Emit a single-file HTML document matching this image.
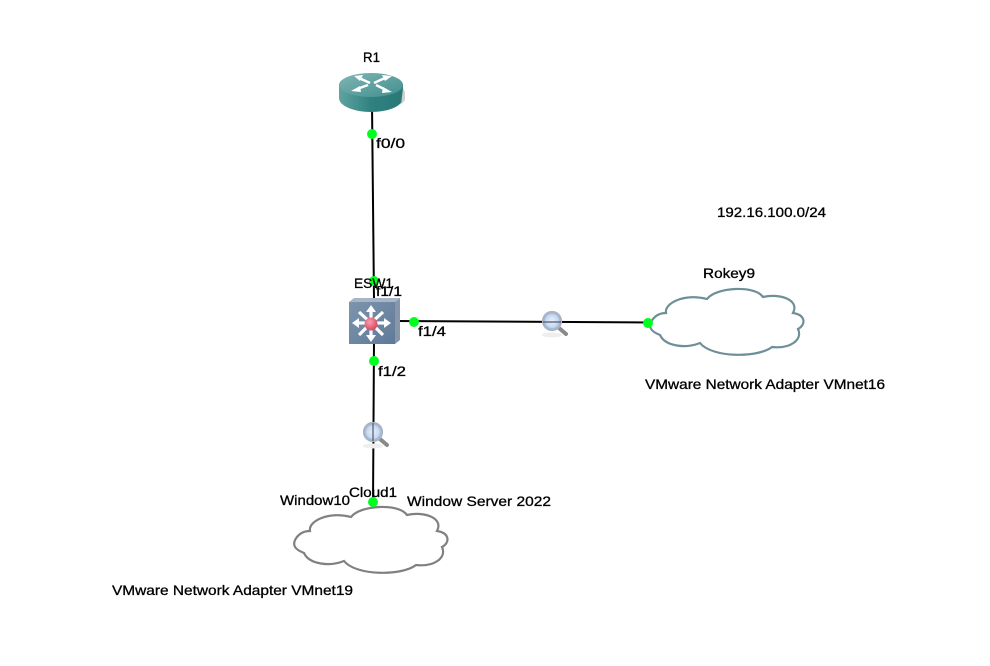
<!DOCTYPE html>
<html>
<head>
<meta charset="utf-8">
<style>
html,body{margin:0;padding:0;background:#fff;width:990px;height:666px;overflow:hidden}
svg{display:block}
text{font-family:"Liberation Sans",sans-serif;font-size:14px;fill:#000;stroke:#000;stroke-width:.3}
</style>
</head>
<body>
<svg width="990" height="666" viewBox="0 0 990 666" xmlns="http://www.w3.org/2000/svg">
<defs>
<linearGradient id="rside" x1="0" x2="1" y1="0" y2="0"><stop offset="0" stop-color="#5fa3a2"/><stop offset=".5" stop-color="#2f8280"/><stop offset="1" stop-color="#2a7776"/></linearGradient>
<linearGradient id="rtop" x1="0" x2="1" y1="0" y2="1"><stop offset="0" stop-color="#80b5b4"/><stop offset="1" stop-color="#418f8e"/></linearGradient>
<linearGradient id="sw" x1="0" x2="1" y1="0" y2="1"><stop offset="0" stop-color="#7d94ad"/><stop offset="1" stop-color="#5f7a98"/></linearGradient>
<radialGradient id="red" cx=".4" cy=".35" r=".7"><stop offset="0" stop-color="#f8a0ad"/><stop offset="1" stop-color="#d8405c"/></radialGradient>
<radialGradient id="lens" cx=".5" cy=".5" r=".5"><stop offset="0" stop-color="#e8f0fa"/><stop offset=".7" stop-color="#c4d9f0"/><stop offset="1" stop-color="#7fa6d8"/></radialGradient>
<path id="cloud" d="M651,322 Q656,313 666,313 C664,303 685,293 707,299 C716,287 755,285 763,297 C780,293 800,300 793,313 C806,315 806,325 798,329 C803,340 790,349 772,347 C758,358 712,358 700,343 C685,349 665,346 660,335 C650,331 649,327 651,322 Z"/>
<g id="mag">
<ellipse cx="0" cy="14" rx="10" ry="2.5" fill="#eeeeee"/>
<line x1="7" y1="7" x2="14" y2="13" stroke="#8a8a8a" stroke-width="4" stroke-linecap="round"/>
<circle cx="0" cy="0" r="9" fill="url(#lens)" stroke="#aab4c2" stroke-width="2.2"/>
</g>
</defs>

<!-- links -->
<g stroke="#000" stroke-width="2" fill="none">
<line x1="372" y1="105" x2="374" y2="300"/>
<line x1="374" y1="340" x2="373" y2="505"/>
<line x1="395" y1="321" x2="650" y2="322.5"/>
</g>

<!-- R1 router -->
<path d="M339,85 L339,98 C339,106 354,112 371,112 C388,112 403,106 403,98 L403,85 Z" fill="url(#rside)"/>
<path d="M403,88 L405,92 L405,100 L401,105 Z" fill="#cfcfcf"/>
<ellipse cx="371" cy="85" rx="32" ry="12" fill="url(#rtop)"/>
<g stroke="#fff" stroke-width="2.4" fill="none">
<line x1="370" y1="83" x2="359" y2="78"/>
<line x1="374" y1="83" x2="385" y2="78"/>
<line x1="368" y1="85" x2="357" y2="89"/>
<line x1="376" y1="85" x2="386" y2="90"/>
</g>
<g fill="#fff">
<path d="M354,76 L363,75 L360,81 Z"/>
<path d="M392,76 L382,75 L385,81 Z"/>
<path d="M351,91 L360,86 L361,92 Z"/>
<path d="M392,92 L383,87 L382,93 Z"/>
</g>

<!-- ESW1 switch -->
<path d="M349,302 L354,298 L400,298 L395,302 Z" fill="#a7b5c7"/>
<path d="M395,302 L400,298 L400,340 L395,344 Z" fill="#8796a8"/>
<rect x="349" y="302" width="46" height="42" fill="url(#sw)"/>
<g stroke="#fff" stroke-width="3.2" fill="none">
<line x1="371" y1="323" x2="371" y2="310"/><line x1="371" y1="323" x2="371" y2="338"/>
<line x1="371" y1="323" x2="357" y2="323"/><line x1="371" y1="323" x2="386" y2="323"/>
<line x1="371" y1="323" x2="359" y2="312"/><line x1="371" y1="323" x2="383" y2="312"/>
<line x1="371" y1="323" x2="359" y2="335"/><line x1="371" y1="323" x2="383" y2="335"/>
</g>
<g fill="#fff">
<path d="M371,305 L366,312 L376,312 Z"/><path d="M371,342 L366,335 L376,335 Z"/>
<path d="M352,323 L359,318 L359,328 Z"/><path d="M391,323 L384,318 L384,328 Z"/>
</g>
<circle cx="371" cy="324" r="6.5" fill="url(#red)"/>

<!-- clouds -->
<use href="#cloud" fill="#fff" stroke="#6e8f97" stroke-width="2.2"/>
<use href="#cloud" transform="translate(-356,218)" fill="#fff" stroke="#808080" stroke-width="2.2"/>

<!-- captures -->
<use href="#mag" transform="translate(552,321)"/>
<use href="#mag" transform="translate(373,432)"/>
<line x1="543" y1="322" x2="561" y2="322" stroke="#556" stroke-width="1.2"/>
<line x1="373" y1="423" x2="373" y2="441" stroke="#556" stroke-width="1.2"/>

<!-- port dots -->
<g fill="#00ff1e">
<circle cx="372" cy="134" r="5"/>
<circle cx="374" cy="281" r="5"/>
<circle cx="414" cy="322" r="5"/>
<circle cx="374" cy="361" r="5"/>
<circle cx="648" cy="323" r="5"/>
<circle cx="373" cy="502" r="5"/>
</g>

<!-- labels -->
<text x="363" y="62" textLength="17" lengthAdjust="spacingAndGlyphs">R1</text>
<text x="376" y="148" textLength="29" lengthAdjust="spacingAndGlyphs">f0/0</text>
<text x="717" y="217" textLength="109" lengthAdjust="spacingAndGlyphs">192.16.100.0/24</text>
<text x="703" y="278" textLength="52" lengthAdjust="spacingAndGlyphs">Rokey9</text>
<text x="354" y="288" textLength="39" lengthAdjust="spacingAndGlyphs">ESW1</text>
<text x="376" y="296" textLength="26" lengthAdjust="spacingAndGlyphs">f1/1</text>
<text x="418" y="336" textLength="28" lengthAdjust="spacingAndGlyphs">f1/4</text>
<text x="378" y="376" textLength="28" lengthAdjust="spacingAndGlyphs">f1/2</text>
<text x="645" y="389" textLength="240" lengthAdjust="spacingAndGlyphs">VMware Network Adapter VMnet16</text>
<text x="349" y="497" textLength="48" lengthAdjust="spacingAndGlyphs">Cloud1</text>
<text x="280" y="505" textLength="70" lengthAdjust="spacingAndGlyphs">Window10</text>
<text x="407" y="506" textLength="144" lengthAdjust="spacingAndGlyphs">Window Server 2022</text>
<text x="112" y="595" textLength="241" lengthAdjust="spacingAndGlyphs">VMware Network Adapter VMnet19</text>
</svg>
</body>
</html>
